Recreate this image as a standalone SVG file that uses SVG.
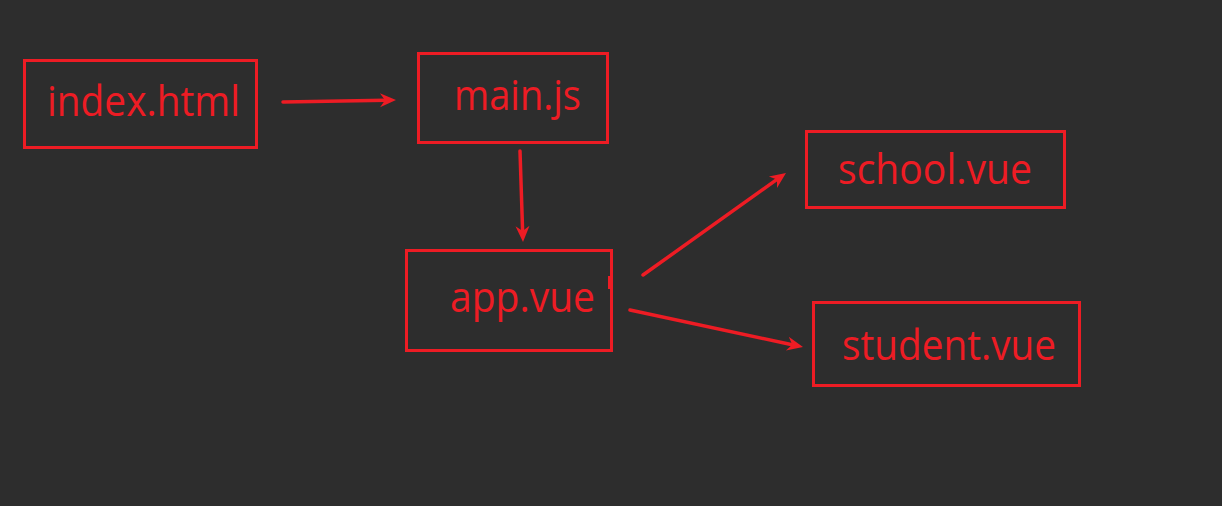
<svg xmlns="http://www.w3.org/2000/svg" width="1222" height="506" viewBox="0 0 1222 506">
<style>
.box{fill:none;stroke:#ed1c24;stroke-width:3}
.lbl{fill:#ed1c24;font-family:"Open Sans","Noto Sans",sans-serif;font-size:42px}
.conn{stroke:#ed1c24;stroke-width:3.5;stroke-linecap:round;fill:none}
.head{fill:#ed1c24;stroke:none}
</style>
<rect width="1222" height="506" fill="#2d2d2d"/>
<g id="index">
<rect class="box" x="24.5" y="60.5" width="232" height="87"/>
<text class="lbl" x="47" y="116" textLength="193" lengthAdjust="spacingAndGlyphs">index.html</text>
</g>
<g id="main">
<rect class="box" x="418.5" y="53.5" width="189" height="89"/>
<text class="lbl" x="454" y="110" textLength="127" lengthAdjust="spacingAndGlyphs">main.js</text>
</g>
<g id="app">
<rect class="box" x="406.5" y="250.5" width="205" height="100"/>
<text class="lbl" x="450" y="312" textLength="145" lengthAdjust="spacingAndGlyphs">app.vue</text>
<rect x="608" y="276" width="4" height="13" fill="#ed1c24"/>
</g>
<g id="school">
<rect class="box" x="806.5" y="131.5" width="258" height="76"/>
<text class="lbl" x="838" y="184" textLength="194" lengthAdjust="spacingAndGlyphs">school.vue</text>
</g>
<g id="student">
<rect class="box" x="813.5" y="302.5" width="266" height="83"/>
<text class="lbl" x="842" y="360" textLength="214" lengthAdjust="spacingAndGlyphs">student.vue</text>
</g>
<g id="connectors">
<line class="conn" x1="283" y1="102" x2="386" y2="100.2"/>
<path class="head" d="M396,100 L380.1,107.3 L385,100.2 L379.9,93.3 Z"/>
<line class="conn" x1="520" y1="151" x2="522.6" y2="231"/>
<path class="head" d="M523,242 L515.5,226.2 L522.6,231 L529.5,225.8 Z"/>
<line class="conn" x1="643" y1="275" x2="777" y2="179.4"/>
<path class="head" d="M786,173 L777,188 L777,179.4 L768.9,176.6 Z"/>
<line class="conn" x1="630" y1="310" x2="792.2" y2="344.7"/>
<path class="head" d="M803,347 L785.9,350.5 L792.2,344.7 L788.8,336.8 Z"/>
</g>
</svg>
